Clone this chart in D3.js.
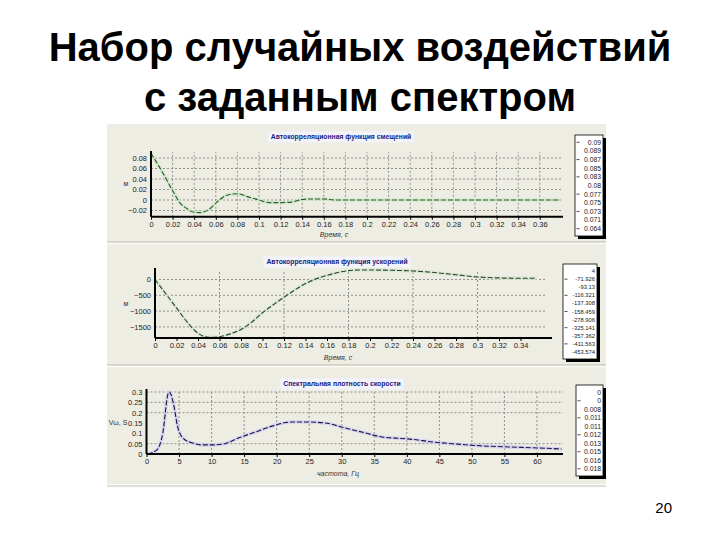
<!DOCTYPE html>
<html><head><meta charset="utf-8">
<script src="https://cdn.jsdelivr.net/npm/d3@7"></script>
<style>html,body{margin:0;padding:0;background:#fff;}svg{display:block;}</style>
</head><body>
<script>
// ---------- DATA ----------
const slideTitle = ["Набор случайных воздействий", "с заданным спектром"];
const pageNumber = "20";

// Panel 1: autocorrelation of displacement
const dispTitle = "Автокорреляционная функция смещений";
const dispTime  = [0, 0.01, 0.02, 0.027, 0.033, 0.039, 0.045, 0.053, 0.061, 0.07, 0.08, 0.09, 0.1, 0.11, 0.12, 0.13, 0.14, 0.15, 0.16, 0.17, 0.18, 0.2, 0.24, 0.28, 0.32, 0.36, 0.378];
const dispValue = [0.089, 0.055, 0.018, -0.006, -0.016, -0.023, -0.024, -0.019, -0.004, 0.009, 0.012, 0.006, 0.0, -0.005, -0.005, -0.004, 0.001, 0.002, 0.002, 0.0, 0.0, 0.0, 0.0, 0.0, 0.0, 0.0, 0.0];
const dispXTicks = [0,0.02,0.04,0.06,0.08,0.1,0.12,0.14,0.16,0.18,0.2,0.22,0.24,0.26,0.28,0.3,0.32,0.34,0.36];
const dispYTicks = [-0.02, 0, 0.02, 0.04, 0.06, 0.08];
const dispLegend = ["0.09","0.089","0.087","0.085","0.083","0.08","0.077","0.075","0.073","0.071","0.064"];

// Panel 2: autocorrelation of acceleration
const accTitle = "Автокорреляционная функция ускорений";
const accTime  = [0, 0.01, 0.02, 0.03, 0.04, 0.05, 0.06, 0.07, 0.08, 0.09, 0.1, 0.11, 0.12, 0.13, 0.14, 0.15, 0.16, 0.17, 0.18, 0.19, 0.2, 0.22, 0.24, 0.26, 0.28, 0.3, 0.32, 0.34, 0.355];
const accValue = [0, -450, -900, -1350, -1700, -1830, -1810, -1720, -1580, -1350, -1050, -800, -560, -330, -130, 20, 130, 220, 280, 300, 300, 290, 270, 220, 150, 80, 50, 40, 40];
const accXTicks = [0,0.02,0.04,0.06,0.08,0.1,0.12,0.14,0.16,0.18,0.2,0.22,0.24,0.26,0.28,0.3,0.32,0.34];
const accYTicks = [0, -500, -1000, -1500];
const accLegend = ["4","-71.926","-93.13","-116.321","-137.308","-158.459","-278.906","-325.141","-357.362","-411.563","-453.574"];

// Panel 3: spectral density of velocity
const specTitle = "Спектральная плотность скорости";
const specFreq  = [0.2, 1.6, 2.5, 3.3, 3.5, 4.1, 4.8, 5.6, 7.1, 8.5, 10.1, 11.8, 14.1, 16.7, 19.3, 22.3, 24.3, 27.4, 30.5, 33.6, 36.2, 38.2, 40.5, 44, 47.7, 51.7, 55.8, 60.4, 63.8];
const specValue = [0, 0.02, 0.1, 0.29, 0.3, 0.25, 0.13, 0.077, 0.053, 0.044, 0.044, 0.048, 0.077, 0.106, 0.135, 0.155, 0.155, 0.15, 0.126, 0.102, 0.082, 0.077, 0.072, 0.058, 0.048, 0.039, 0.034, 0.029, 0.024];
const specXTicks = [0,5,10,15,20,25,30,35,40,45,50,55,60];
const specYTicks = [0, 0.05, 0.1, 0.15, 0.2, 0.25, 0.3];
const specLegend = ["0","0","0.008","0.011","0.011","0.012","0.013","0.015","0.016","0.018"];

// ---------- DRAW ----------
const W = 720, H = 540;
const svg = d3.select("body").append("svg").attr("width", W).attr("height", H);
svg.append("rect").attr("width", W).attr("height", H).attr("fill", "#fff");

// slide title
svg.selectAll("text.title").data(slideTitle).enter().append("text")
  .attr("class", "title")
  .attr("x", 360).attr("y", (d,i) => 61 + i*50)
  .attr("text-anchor", "middle")
  .attr("font-family", "Liberation Sans, Arial, sans-serif")
  .attr("font-weight", "bold").attr("font-size", 40)
  .attr("fill", "#000").text(d => d);

svg.append("text").attr("x", 672).attr("y", 513).attr("text-anchor", "end")
  .attr("font-family", "Liberation Sans, Arial, sans-serif").attr("font-size", 15)
  .text(pageNumber);

// screenshot background
const BG = "#eeede3";
svg.append("rect").attr("x", 107).attr("y", 124).attr("width", 499).attr("height", 360).attr("fill", BG);

const FONT = "Liberation Sans, Arial, sans-serif";

function panel(cfg) {
  const g = svg.append("g");
  // panel frame
  g.append("line").attr("x1", 107).attr("x2", 606).attr("y1", cfg.bottom).attr("y2", cfg.bottom)
    .attr("stroke", "#b9b7aa").attr("stroke-width", 1);
  g.append("line").attr("x1", 107).attr("x2", 606).attr("y1", cfg.bottom + 1.5).attr("y2", cfg.bottom + 1.5)
    .attr("stroke", "#fbfbf7").attr("stroke-width", 1.5);

  const x = d3.scaleLinear().domain(cfg.xDomain).range(cfg.xRange);
  const y = d3.scaleLinear().domain(cfg.yDomain).range(cfg.yRange);
  const [x0, x1] = cfg.xRange, [yb, yt] = cfg.yRange;

  // grid
  g.append("g").selectAll("line").data(cfg.yGrid).enter().append("line")
    .attr("x1", x0).attr("x2", cfg.gridRight).attr("y1", d => y(d)).attr("y2", d => y(d))
    .attr("stroke", "#777").attr("stroke-width", 0.8).attr("stroke-dasharray", "2,2");
  g.append("g").selectAll("line").data(cfg.xGrid).enter().append("line")
    .attr("x1", d => x(d)).attr("x2", d => x(d)).attr("y1", yb).attr("y2", cfg.gridTop)
    .attr("stroke", "#777").attr("stroke-width", 0.8).attr("stroke-dasharray", "2,2");

  // curve
  const pts = cfg.xs.map((v, i) => [v, cfg.ys[i]]);
  const line = d3.line().x(d => x(d[0])).y(d => y(d[1])).curve(d3.curveMonotoneX);
  g.append("path").attr("d", line(pts)).attr("fill", "none")
    .attr("stroke", cfg.halo).attr("stroke-width", 3.5).attr("stroke-opacity", 0.8);
  g.append("path").attr("d", line(pts)).attr("fill", "none")
    .attr("stroke", cfg.color).attr("stroke-width", 1.1).attr("stroke-dasharray", "5,2");

  // axes
  const xAxis = d3.axisBottom(x).tickValues(cfg.xTicks).tickSize(3).tickPadding(2).tickFormat(cfg.xFmt);
  const ax = g.append("g").attr("transform", `translate(0,${yb})`).call(xAxis);
  ax.select(".domain").attr("stroke", "#000").attr("stroke-width", 2).attr("d", `M${x0},0H${cfg.axisRight}`);
  ax.selectAll("text").attr("font-family", FONT).attr("font-size", 7.5).attr("fill", "#222");
  const yAxis = d3.axisLeft(y).tickValues(cfg.yTicks).tickSize(0).tickPadding(4).tickFormat(cfg.yFmt);
  const ay = g.append("g").attr("transform", `translate(${x0},0)`).call(yAxis);
  ay.select(".domain").attr("stroke", "#000").attr("stroke-width", 2).attr("d", `M0,${yb}V${cfg.axisTop}`);
  ay.selectAll("text").attr("font-family", FONT).attr("font-size", 7.5).attr("fill", "#222");

  // axis titles
  g.append("text").attr("x", cfg.xLabelPos[0]).attr("y", cfg.xLabelPos[1]).attr("text-anchor", "middle")
    .attr("font-family", FONT).attr("font-size", 7).attr("font-style", "italic").attr("fill", "#333").text(cfg.xLabel);
  g.append("text").attr("x", cfg.yLabelPos[0]).attr("y", cfg.yLabelPos[1]).attr("text-anchor", "middle")
    .attr("font-family", FONT).attr("font-size", 7).attr("fill", "#333").text(cfg.yLabel);

  // chart title with background box
  const tg = g.append("g");
  const tbox = tg.append("rect").attr("fill", "#f3f3fb");
  const tt = tg.append("text").attr("x", cfg.titlePos[0]).attr("y", cfg.titlePos[1]).attr("text-anchor", "middle")
    .attr("font-family", FONT).attr("font-size", 6.8).attr("font-weight", "bold").attr("fill", "#1a1a7a").text(cfg.title);
  const bb = tt.node().getBBox();
  tbox.attr("x", bb.x - 3).attr("y", bb.y - 1.5).attr("width", bb.width + 6).attr("height", bb.height + 3);

  // legend
  const [lx, ly, lw, lh] = cfg.legend;
  g.append("rect").attr("x", lx + 3).attr("y", ly + 3).attr("width", lw).attr("height", lh).attr("fill", "#000");
  g.append("rect").attr("x", lx).attr("y", ly).attr("width", lw).attr("height", lh).attr("fill", "#fff")
    .attr("stroke", "#000").attr("stroke-width", 0.8);
  const step = (lh - 6) / cfg.legendLabels.length;
  const li = g.append("g").selectAll("g").data(cfg.legendLabels).enter().append("g")
    .attr("transform", (d, i) => `translate(${lx},${ly + 3 + step * (i + 0.5)})`);
  li.append("text").attr("x", lw - 2).attr("dy", "0.35em").attr("text-anchor", "end")
    .attr("font-family", FONT).attr("font-size", cfg.legendFont).attr("fill", "#222").text(d => d);
  li.filter((d, i) => i % 2 === cfg.legendTickParity).append("line").attr("x1", 1.5).attr("x2", 4.5)
    .attr("stroke", "#222").attr("stroke-width", 0.8);
}

const fmt = d => d3.format("~g")(d);

panel({
  bottom: 242,
  xDomain: [0, 0.38], xRange: [151, 561.4],
  yDomain: [-0.032, 0.09], yRange: [216.8, 152.75],
  xs: dispTime, ys: dispValue,
  xTicks: dispXTicks, yTicks: dispYTicks, xGrid: dispXTicks.slice(1), yGrid: dispYTicks,
  gridRight: 561, gridTop: 152, axisRight: 563, axisTop: 151,
  xFmt: fmt, yFmt: fmt,
  color: "#2c5a2c", halo: "#cfe7c7",
  xLabel: "Время, с", xLabelPos: [334, 237], yLabel: "м", yLabelPos: [126, 186],
  title: dispTitle, titlePos: [341, 139],
  legend: [575, 135, 28, 101], legendLabels: dispLegend, legendTickParity: 0, legendFont: 6.8
});

panel({
  bottom: 365,
  xDomain: [0, 0.37], xRange: [155, 552.75],
  yDomain: [-1850, 300], yRange: [338, 270],
  xs: accTime, ys: accValue,
  xTicks: accXTicks, yTicks: accYTicks, xGrid: [0.06, 0.12, 0.18, 0.24, 0.3], yGrid: accYTicks,
  gridRight: 545, gridTop: 270, axisRight: 552, axisTop: 268,
  xFmt: fmt, yFmt: d => d3.format("d")(d),
  color: "#2f3f2f", halo: "#d6e8cf",
  xLabel: "Время, с", xLabelPos: [338, 360], yLabel: "м", yLabelPos: [126, 306],
  title: accTitle, titlePos: [337, 264],
  legend: [563, 264, 34, 95], legendLabels: accLegend, legendTickParity: 1, legendFont: 5.8
});

panel({
  bottom: 486,
  xDomain: [0, 64], xRange: [146.5, 563],
  yDomain: [0, 0.3], yRange: [454, 392],
  xs: specFreq, ys: specValue,
  xTicks: specXTicks, yTicks: specYTicks, xGrid: specXTicks.slice(1), yGrid: [0.05, 0.2, 0.25, 0.3],
  gridRight: 563, gridTop: 390, axisRight: 563, axisTop: 389,
  xFmt: fmt, yFmt: fmt,
  color: "#141446", halo: "#d4ccf2",
  xLabel: "частота, Гц", xLabelPos: [338, 476], yLabel: "Vω, S", yLabelPos: [118, 425],
  title: specTitle, titlePos: [342, 386],
  legend: [576, 385, 27, 91], legendLabels: specLegend, legendTickParity: 1, legendFont: 6.8
});
</script>
</body></html>
